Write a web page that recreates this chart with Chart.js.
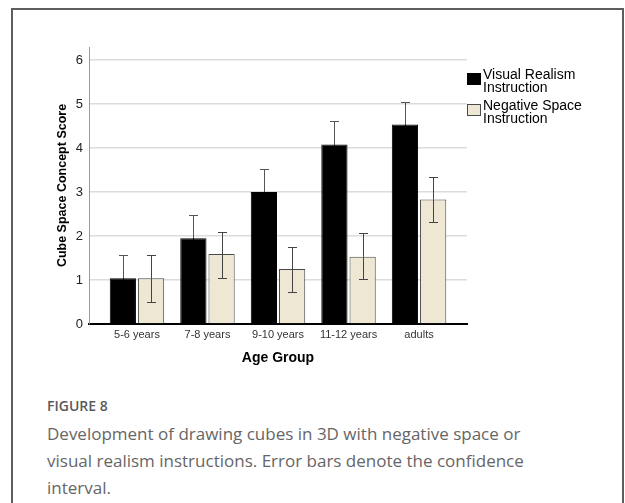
<!DOCTYPE html>
<html>
<head>
<meta charset="utf-8">
<script src="https://cdn.jsdelivr.net/npm/chart.js@4.4.0/dist/chart.umd.min.js"></script>
<style>
  html, body { margin: 0; padding: 0; background: #fff; }
  body { width: 625px; height: 503px; position: relative; overflow: hidden; }
  #frame { position: absolute; left: 11px; top: 8px; width: 613px; height: 540px; border: 2px solid #5e5e5e; box-sizing: border-box; }
  #wrap { position: absolute; left: 0; top: 0; width: 625px; height: 380px; }
  #figno { position: absolute; left: 47px; top: 396px; font: 600 14px/20px "Open Sans", sans-serif; color: #5a5a5a; }
  #caption { position: absolute; left: 47px; top: 420px; width: 516px; font: 400 17px/27px "Open Sans", sans-serif; color: #666; }
</style>
</head>
<body>
<div id="frame"></div>
<div id="wrap"><canvas id="myChart" width="625" height="380"></canvas></div>
<div id="figno">FIGURE 8</div>
<div id="caption">Development of drawing cubes in 3D with negative space or visual realism instructions. Error bars denote the confidence interval.</div>
<script>
var ageGroups = ['5-6 years', '7-8 years', '9-10 years', '11-12 years', 'adults'];
var seriesNames = ['Visual Realism Instruction', 'Negative Space Instruction'];

// means and confidence interval bounds
var realismMean = [1.04, 1.95, 3.00, 4.08, 4.54];
var realismLow = [0.52, 1.42, 2.48, 3.55, 4.02];
var realismHigh = [1.56, 2.48, 3.52, 4.61, 5.06];

var negativeMean = [1.04, 1.59, 1.25, 1.53, 2.83];
var negativeLow = [0.51, 1.05, 0.73, 1.02, 2.31];
var negativeHigh = [1.56, 2.10, 1.76, 2.06, 3.35];

var ctx = document.getElementById('myChart');

function toPoints(values) {
  return values.map(function (v, i) { return { x: i, y: v }; });
}

function wrapWords(c, text, maxWidth) {
  var words = text.split(' ');
  var lines = [];
  var line = '';
  words.forEach(function (w) {
    var test = line ? line + ' ' + w : w;
    if (line && c.measureText(test).width > maxWidth) {
      lines.push(line);
      line = w;
    } else {
      line = test;
    }
  });
  lines.push(line);
  return lines;
}

// draws the CI whiskers; the part inside the bar gets its own colour
var errorBars = {
  id: 'errorBars',
  afterDatasetsDraw: function (chart) {
    var c = chart.ctx;
    var yScale = chart.scales.y;
    chart.data.datasets.forEach(function (ds, di) {
      var meta = chart.getDatasetMeta(di);
      meta.data.forEach(function (bar, i) {
        var top = Math.round(yScale.getPixelForValue(ds.errHigh[i])) + 0.5;
        var bottom = Math.round(yScale.getPixelForValue(ds.errLow[i])) + 0.5;
        var x = Math.round(bar.x) + 0.5;
        c.save();
        c.lineWidth = 1;
        c.strokeStyle = ds.errColor;
        c.beginPath();
        c.moveTo(x, top);
        c.lineTo(x, bar.y);
        c.moveTo(x - 4.5, top);
        c.lineTo(x + 4.5, top);
        c.stroke();
        c.strokeStyle = ds.errInsideColor;
        c.beginPath();
        c.moveTo(x, bar.y);
        c.lineTo(x, bottom);
        c.moveTo(x - 4.5, bottom);
        c.lineTo(x + 4.5, bottom);
        c.stroke();
        c.restore();
      });
    });
  }
};

var sideLegend = {
  id: 'sideLegend',
  afterDraw: function (chart) {
    var c = chart.ctx;
    var x0 = chart.chartArea.right;
    var y0 = 73;
    c.save();
    c.font = '14px "Liberation Sans", Arial, sans-serif';
    c.textBaseline = 'alphabetic';
    chart.data.datasets.forEach(function (ds) {
      c.fillStyle = ds.backgroundColor;
      c.fillRect(x0 + 0.5, y0 + 0.5, 13, 11);
      c.strokeStyle = ds.borderColor;
      c.lineWidth = 1;
      c.strokeRect(x0 + 0.5, y0 + 0.5, 13, 11);
      c.fillStyle = '#000';
      var lines = wrapWords(c, ds.label, 110);
      lines.forEach(function (ln, k) {
        c.fillText(ln, x0 + 16, y0 + 6 + k * 13);
      });
      y0 += 31;
    });
    c.restore();
  }
};

new Chart(ctx, {
  type: 'bar',
  data: {
    datasets: [{
      label: seriesNames[0],
      data: toPoints(realismMean),
      errLow: realismLow,
      errHigh: realismHigh,
      backgroundColor: '#000000',
      borderColor: '#000000',
      errColor: '#555555',
      errInsideColor: '#000000',
      borderWidth: 1
    }, {
      label: seriesNames[1],
      data: toPoints(negativeMean),
      errLow: negativeLow,
      errHigh: negativeHigh,
      backgroundColor: '#ede7d3',
      borderColor: '#4a4a4a',
      errColor: '#444444',
      errInsideColor: '#444444',
      borderWidth: 1
    }]
  },
  options: {
    responsive: false,
    animation: false,
    categoryPercentage: 0.8,
    barPercentage: 0.93,
    layout: { padding: { top: 47, right: 158, bottom: 0, left: 0 } },
    plugins: {
      legend: { display: false },
      tooltip: { enabled: false }
    },
    scales: {
      x: {
        type: 'linear',
        offset: false,
        min: -0.68,
        max: 4.68,
        grid: { display: false, drawTicks: false },
        border: { color: '#000', width: 2 },
        afterBuildTicks: function (scale) {
          scale.ticks = ageGroups.map(function (g, i) { return { value: i }; });
        },
        afterFit: function (scale) { scale.height = 56; },
        ticks: {
          autoSkip: false,
          maxRotation: 0,
          padding: 4,
          color: '#333',
          font: { family: '"Liberation Sans", Arial, sans-serif', size: 11 },
          callback: function (v) { return ageGroups[v]; }
        },
        title: {
          display: true,
          text: 'Age Group',
          color: '#000',
          font: { family: '"Liberation Sans", Arial, sans-serif', size: 14, weight: 'bold' },
          padding: { top: 0, bottom: 13 }
        }
      },
      y: {
        min: 0,
        max: 6.3,
        afterFit: function (scale) { scale.width = 89; },
        grid: { color: '#dcdcdc', lineWidth: 1.5, drawTicks: false },
        border: { color: '#9a9a9a', width: 1 },
        ticks: {
          stepSize: 1,
          includeBounds: false,
          padding: 6,
          color: '#222',
          font: { family: '"Liberation Sans", Arial, sans-serif', size: 13 }
        },
        title: {
          display: true,
          text: 'Cube Space Concept Score',
          color: '#000',
          font: { family: '"Liberation Sans", Arial, sans-serif', size: 12.5, weight: 'bold' },
          padding: { top: 55, bottom: 0 }
        }
      }
    }
  },
  plugins: [errorBars, sideLegend]
});
</script>
</body>
</html>
